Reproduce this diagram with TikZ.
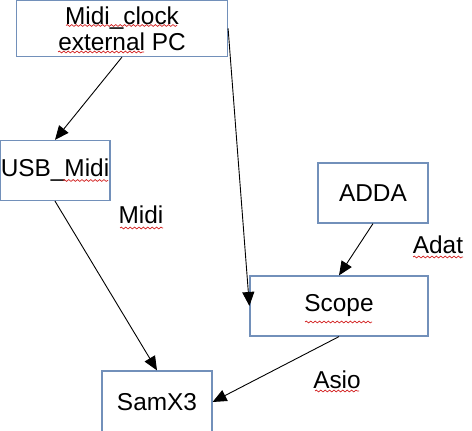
\documentclass[tikz,border=0pt]{standalone}
\usepackage{fontspec}
\setmainfont{Liberation Sans}
\usetikzlibrary{positioning, arrows.meta, decorations.pathmorphing}
\definecolor{boxblue}{RGB}{114, 144, 186}
\definecolor{spellred}{RGB}{210, 30, 30}

\begin{document}
\begin{tikzpicture}[
  x=0.5pt, y=-0.5pt,
  unit/.style={draw=boxblue, line width=0.6pt, inner sep=0, align=center, font=\fontsize{12.2}{13}\selectfont},
  link/.style={draw=black, line width=0.45pt, -{Triangle[length=7pt, width=6pt]}},
  tag/.style={font=\fontsize{12.2}{13}\selectfont},
  squiggle/.style={draw=spellred, line width=0.35pt, decorate, decoration={snake, amplitude=0.45pt, segment length=2.2pt}},
]
\useasboundingbox (0, 0) rectangle (472, 431);

% ==================== Boxes ====================
\node[unit, minimum width=105.5pt, minimum height=28pt] (clock) at (122, 28.5) {Midi\_clock\\external PC};
\node[unit, minimum width=55pt, minimum height=30pt] (usb) at (55, 170.5) {USB\_Midi};
\node[unit, minimum width=55pt, minimum height=30pt] (adda) at (373, 193) {ADDA};
\node[unit, minimum width=89pt, minimum height=30pt] (scope) at (339, 306) {Scope};
\node[unit, minimum width=55pt, minimum height=31pt] (samx) at (157, 402) {SamX3};

% ==================== Labels ====================
\node[tag] (midilbl) at (141, 215) {Midi};
\node[tag] (adatlbl) at (438, 245) {Adat};
\node[tag] (asiolbl) at (337, 380) {Asio};

% ==================== Arrows ====================
\draw[link] (clock.south) -- (usb.north);
\draw[link] (clock.east) -- (scope.west);
\draw[link] (usb.south) -- (samx.north);
\draw[link] (adda.south) -- (scope.north);
\draw[link] (scope.south) -- (samx.east);

% ==================== Spell marks ====================
\draw[squiggle] (66, 25.5) -- (177, 25.5);
\draw[squiggle] (58, 52) -- (144, 52);
\draw[squiggle] (63, 180.5) -- (108, 180.5);
\draw[squiggle] (120, 228) -- (163, 228);
\draw[squiggle] (413, 257) -- (463, 257);
\draw[squiggle] (305, 322) -- (372, 322);
\draw[squiggle] (315, 391) -- (359, 391);

\end{tikzpicture}
\end{document}
